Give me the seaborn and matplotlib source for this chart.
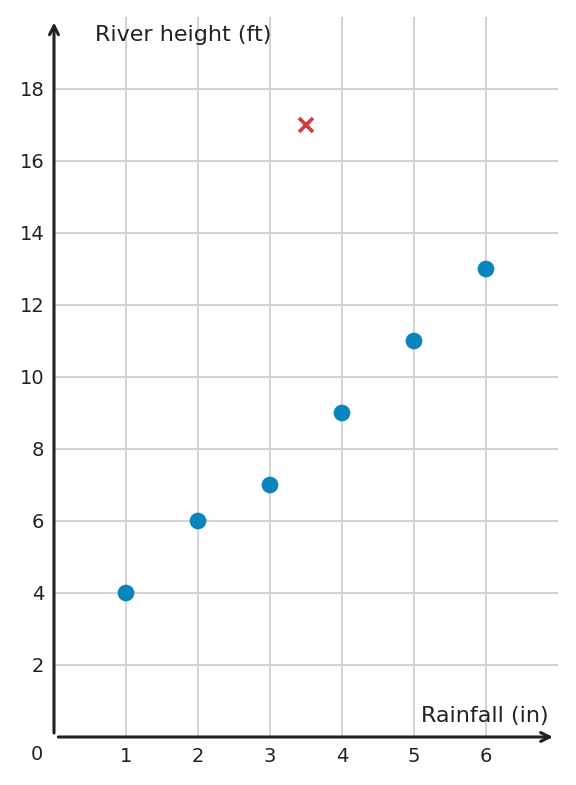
import matplotlib
matplotlib.use("Agg")
import matplotlib.pyplot as plt
import seaborn as sns
import pandas as pd

rainfall = [1, 2, 3, 4, 5, 6]
river_height = [4, 6, 7, 9, 11, 13]
outlier_x = [3.5]
outlier_y = [17]
x_ticks = [1, 2, 3, 4, 5, 6]
y_ticks = [2, 4, 6, 8, 10, 12, 14, 16, 18]

sns.set_theme(style="white")
plt.rcParams['font.family'] = ['DejaVu Sans']

fig = plt.figure(figsize=(5.76, 7.85), dpi=100)
ax = fig.add_axes([54/576, 48/785, (558-54)/576, (737-17)/785])

df = pd.DataFrame({"x": rainfall, "y": river_height})
sns.scatterplot(data=df, x="x", y="y", ax=ax, s=145, color="#0a84bd",
                edgecolor="none", zorder=3)
ax.plot(outlier_x, outlier_y, linestyle="none", marker="x", markersize=10,
        markeredgewidth=2.6, color="#d63b3b", zorder=4)

ax.set_xlim(0, 7)
ax.set_ylim(0, 20)
ax.set_xticks(x_ticks)
ax.set_yticks(y_ticks)
ax.set_xticklabels([str(v) for v in x_ticks])
ax.set_yticklabels([str(v) for v in y_ticks])
ax.grid(True, color="#d4d4d4", linewidth=1.5)
ax.set_axisbelow(True)
for s in ax.spines.values():
    s.set_visible(False)
ax.tick_params(axis="both", direction="in", length=4, width=2.2, color="#222222",
               labelcolor="#222222", labelsize=14)
ax.tick_params(axis="x", pad=7)
ax.tick_params(axis="y", pad=7)
ax.set_xlabel("")
ax.set_ylabel("")

# axis arrows
ax.annotate("", xy=(0, 19.85), xytext=(0, 0.11),
            arrowprops=dict(arrowstyle="->", lw=2.2, color="#222222",
                            shrinkA=0, shrinkB=0, mutation_scale=16),
            annotation_clip=False)
ax.annotate("", xy=(6.93, 0), xytext=(0.06, 0),
            arrowprops=dict(arrowstyle="->", lw=2.2, color="#222222",
                            shrinkA=0, shrinkB=0, mutation_scale=16),
            annotation_clip=False)

ax.text(0.57, 19.5, "River height (ft)", fontsize=16, color="#222222",
        ha="left", va="center")
ax.text(6.87, 0.58, "Rainfall (in)", fontsize=16, color="#222222",
        ha="right", va="center")
ax.text(-0.24, -0.5, "0", fontsize=14, color="#222222", ha="center", va="center",
        clip_on=False)

fig.savefig("out.png", dpi=100)
